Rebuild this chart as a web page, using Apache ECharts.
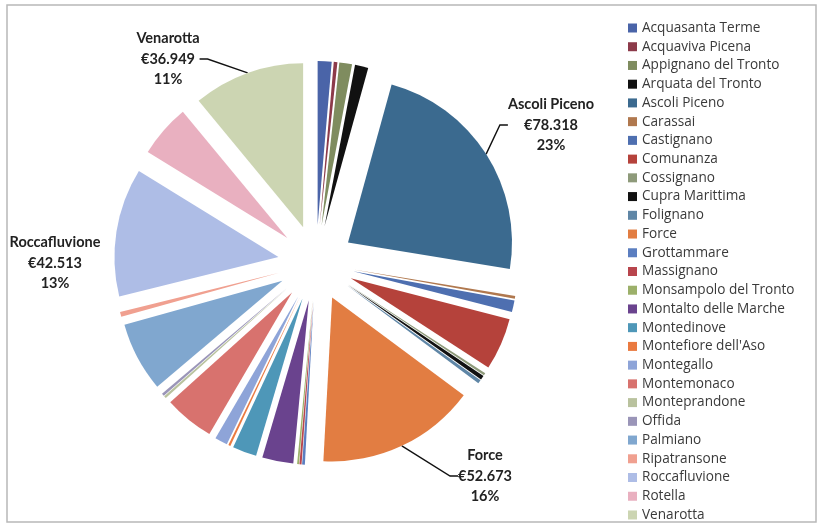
<!DOCTYPE html>
<html><head><meta charset="utf-8">
<script src="https://cdn.jsdelivr.net/npm/echarts@6/dist/echarts.min.js"></script>
<style>
html,body{margin:0;padding:0;background:#fff;overflow:hidden}
#c{width:821px;height:526px}
</style>
</head><body><div id="c"></div>
<script>
const comuni = ['Acquasanta Terme','Acquaviva Picena','Appignano del Tronto','Arquata del Tronto','Ascoli Piceno','Carassai','Castignano','Comunanza','Cossignano','Cupra Marittima','Folignano','Force','Grottammare','Massignano','Monsampolo del Tronto','Montalto delle Marche','Montedinove',"Montefiore dell'Aso",'Montegallo','Montemonaco','Monteprandone','Offida','Palmiano','Ripatransone','Roccafluvione','Rotella','Venarotta'];
const valori = [4600,1200,4200,4400,78318,900,3900,17300,800,1400,1200,52673,900,700,600,10300,8000,700,4200,16500,800,900,23000,1600,42513,17500,36949];
const colori = ['#4a64a8','#8c3a4a','#7f8c5f','#111111','#3b6a8f','#b0784e','#4e6fb0','#b5423b','#8e9a7a','#111111','#5f86a6','#e27d42','#5b7ec0','#b8454d','#9cb06a','#6a438e','#4e97b8','#ea7a40','#8ea4d8','#d8726e','#b9c29e','#9a95b8','#80a7cf','#f0a090','#aebde6','#e9b0c0','#ccd5b2'];
const etichettati = ['Ascoli Piceno','Force','Roccafluvione','Venarotta'];

// label block centres
const labelPos = {
  'Venarotta': [168, 59],
  'Ascoli Piceno': [551, 125],
  'Force': [485, 476],
  'Roccafluvione': [55, 263]
};
const CX = 316, CY = 263, R = 164, OFF = 38;

function fmt(v){ return String(v).replace(/\B(?=(\d{3})+(?!\d))/g, '.'); }

const sliceData = comuni.map((n, i) => ({
  name: n, value: valori[i], selected: true, itemStyle: { color: colori[i] }
}));
const labelData = comuni.map((n, i) => {
  const lab = etichettati.indexOf(n) >= 0;
  return {
    name: n, value: valori[i],
    label: { show: lab },
    labelLine: { show: lab && n !== 'Roccafluvione' }
  };
});

const chart = echarts.init(document.getElementById('c'));
chart.setOption({
  animation: false,
  backgroundColor: '#fff',
  graphic: [{
    type: 'rect', shape: { x: 7, y: 5, width: 809, height: 517 },
    style: { fill: 'none', stroke: '#b8b8b8', lineWidth: 1.5 }, silent: true
  }],
  legend: {
    orient: 'vertical', left: 628, top: 20.5, bottom: 0, padding: 0,
    itemWidth: 9, itemHeight: 9, itemGap: 3.73,
    icon: 'rect', selectedMode: false,
    textStyle: { fontFamily: 'Open Sans', fontSize: 13.6, color: '#3a3a3a', lineHeight: 15 },
    data: comuni
  },
  series: [{
    type: 'pie', center: [CX, CY], radius: R, startAngle: 90, clockwise: true,
    selectedMode: 'multiple', selectedOffset: OFF,
    emphasis: { disabled: true }, silent: true,
    label: { show: false }, labelLine: { show: false },
    data: sliceData
  }, {
    type: 'pie', center: [CX, CY], radius: R + OFF, startAngle: 90, clockwise: true,
    emphasis: { disabled: true }, silent: true, avoidLabelOverlap: false,
    itemStyle: { color: 'rgba(0,0,0,0)' },
    label: {
      show: false, position: 'outside',
      fontFamily: 'Lato', fontWeight: 'bold', fontSize: 14.5, color: '#222',
      lineHeight: 20.5, align: 'center',
      formatter: p => p.name + '\n€' + fmt(p.value) + '\n' + Math.round(p.percent) + '%'
    },
    labelLine: { show: false, length: 8, length2: 8, lineStyle: { color: '#111', width: 1.4 } },
    labelLayout: function (params) {
      const p = labelPos[comuni[params.dataIndex]];
      if (!p) return {};
      return { x: p[0], y: p[1], align: 'center', verticalAlign: 'middle' };
    },
    data: labelData
  }]
});
</script></body></html>
